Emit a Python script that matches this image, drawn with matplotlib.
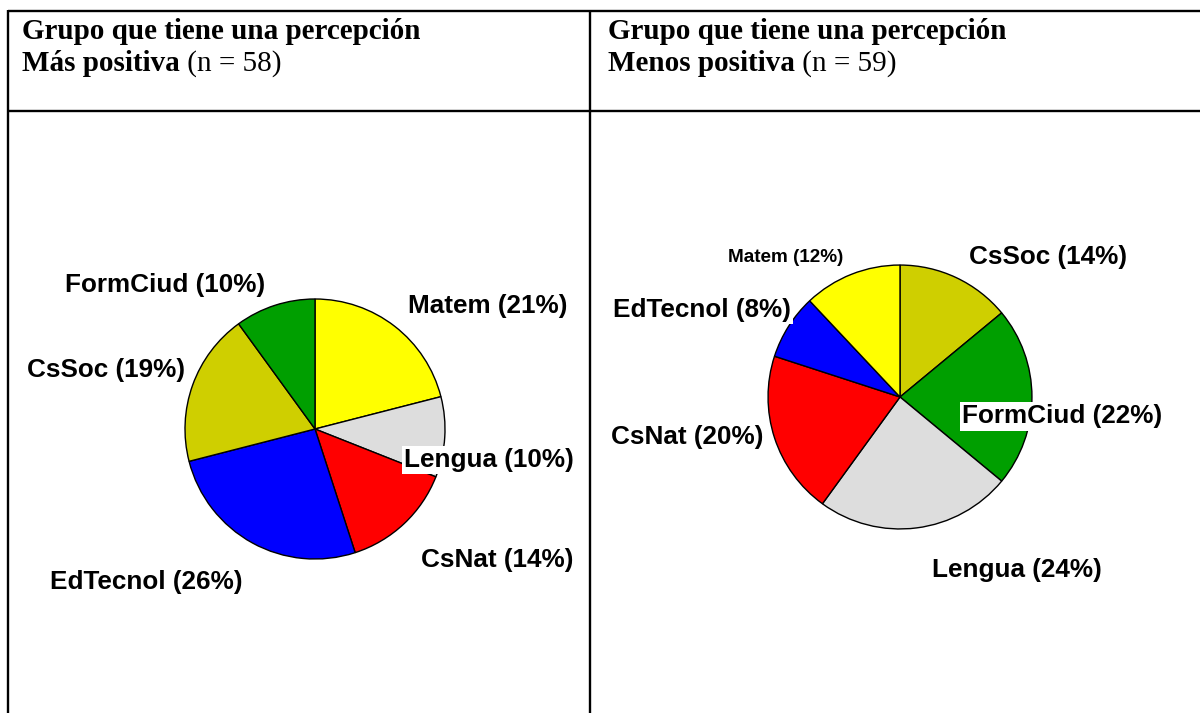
import matplotlib.pyplot as plt

# --- datos ---
LEFT_TITLE_BOLD = "Más positiva"
LEFT_N = 58
RIGHT_TITLE_BOLD = "Menos positiva"
RIGHT_N = 59
HEADER_LINE1 = "Grupo que tiene una percepción"

left_labels = ["Matem", "Lengua", "CsNat", "EdTecnol", "CsSoc", "FormCiud"]
left_values = [21, 10, 14, 26, 19, 10]

right_labels = ["CsSoc", "FormCiud", "Lengua", "CsNat", "EdTecnol", "Matem"]
right_values = [14, 22, 24, 20, 8, 12]

# --- estilo ---
COLORS = {
    "Matem": "#FFFF00",
    "Lengua": "#DDDDDD",
    "CsNat": "#FF0000",
    "EdTecnol": "#0000FF",
    "CsSoc": "#CFCF00",
    "FormCiud": "#009F00",
}
LABEL_FS = 18.8
SMALL_FS = 13.6
# posiciones de etiquetas (unidades del radio), tamaño, fondo blanco
LEFT_LABEL_POS = {
    "Matem": (1.33, 0.95, LABEL_FS, False),
    "Lengua": (1.34, -0.24, LABEL_FS, True),
    "CsNat": (1.40, -1.01, LABEL_FS, False),
    "EdTecnol": (-1.30, -1.18, LABEL_FS, False),
    "CsSoc": (-1.61, 0.45, LABEL_FS, False),
    "FormCiud": (-1.15, 1.11, LABEL_FS, False),
}
RIGHT_LABEL_POS = {
    "CsSoc": (1.14, 1.08, LABEL_FS, False),
    "FormCiud": (1.25, -0.15, LABEL_FS, True),
    "Lengua": (0.90, -1.33, LABEL_FS, False),
    "CsNat": (-1.64, -0.31, LABEL_FS, False),
    "EdTecnol": (-1.52, 0.67, LABEL_FS, True),
    "Matem": (-0.88, 1.07, SMALL_FS, False),
}

W, H = 1200, 713
fig = plt.figure(figsize=(W / 100, H / 100), dpi=100)
fig.patch.set_facecolor("white")

# capa de fondo en pixeles para la tabla y los encabezados
bg = fig.add_axes([0, 0, 1, 1])
bg.set_xlim(0, W)
bg.set_ylim(H, 0)
bg.axis("off")

lw = 1.7
bg.plot([8, W], [11, 11], color="black", lw=lw, solid_capstyle="butt")
bg.plot([8, W], [111, 111], color="black", lw=lw, solid_capstyle="butt")
bg.plot([8, 8], [10, H], color="black", lw=lw, solid_capstyle="butt")
bg.plot([590, 590], [10, H], color="black", lw=lw, solid_capstyle="butt")

serif = "Liberation Serif"
HFS = 21
for x0, bold, n in [(22, LEFT_TITLE_BOLD, LEFT_N), (608, RIGHT_TITLE_BOLD, RIGHT_N)]:
    bg.text(x0, 39, HEADER_LINE1, family=serif, weight="bold", fontsize=HFS,
            va="baseline", ha="left")
    t = bg.text(x0, 71, bold, family=serif, weight="bold", fontsize=HFS,
                va="baseline", ha="left")
    bg.annotate(f" (n = {n})", xy=(1, 0), xycoords=t, family=serif,
                fontsize=HFS, va="bottom", ha="left")


def draw_pie(rect, labels, values, positions, radius):
    ax = fig.add_axes(rect)
    ax.pie(values, colors=[COLORS[l] for l in labels], startangle=90,
           counterclock=False, radius=radius,
           wedgeprops=dict(edgecolor="black", linewidth=1.0))
    ax.set_xlim(-2, 2)
    ax.set_ylim(-2, 2)
    ax.set_aspect("equal")
    ax.axis("off")
    for lab, val in zip(labels, values):
        x, y, fs, box = positions[lab]
        kw = {}
        if box:
            kw["bbox"] = dict(facecolor="white", edgecolor="none", pad=1.5)
        ax.text(x, y, f"{lab} ({val}%)", family="Liberation Sans",
                weight="bold", fontsize=fs, ha="center", va="center",
                clip_on=False, **kw)
    return ax


side = 520
draw_pie([(315 - side / 2) / W, (H - 429 - side / 2) / H, side / W, side / H],
         left_labels, left_values, LEFT_LABEL_POS, 1.0)
draw_pie([(900 - side / 2) / W, (H - 397 - side / 2) / H, side / W, side / H],
         right_labels, right_values, RIGHT_LABEL_POS, 1.015)

fig.savefig("out.png", dpi=100, facecolor="white")
